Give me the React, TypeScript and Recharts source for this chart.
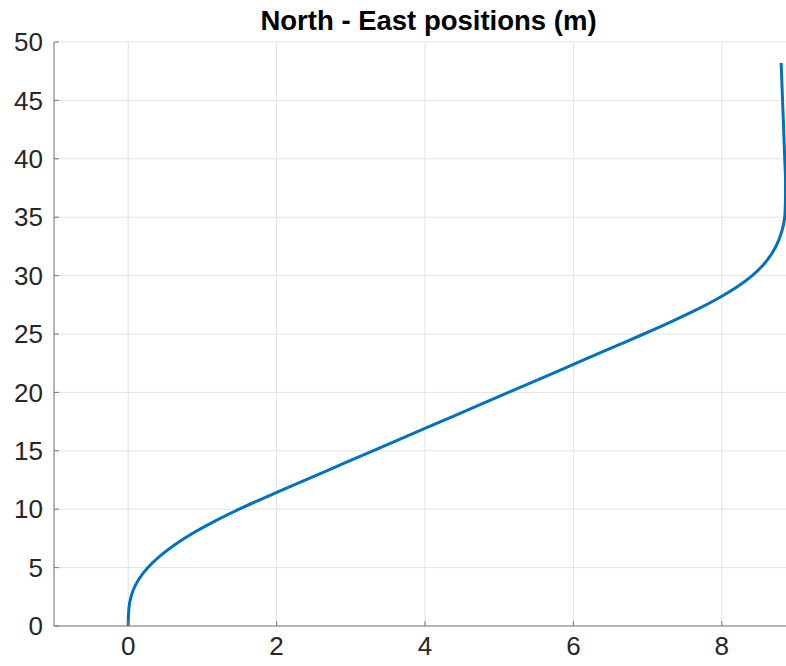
import { CartesianGrid, Line, LineChart, XAxis, YAxis } from "recharts"

const chartTitle = "North - East positions (m)"

// east (x) and north (y) positions of the track
const eastPositions = [
  0, 0.004, 0.02, 0.063, 0.143, 0.266, 0.431, 0.638, 0.887, 1.175, 1.496, 1.843, 2.205, 2.935, 3.665, 4.395,
  5.125, 5.855, 6.585, 6.948, 7.3, 7.633, 7.935, 8.198, 8.41, 8.57, 8.685, 8.765, 8.818, 8.848, 8.856, 8.859,
  8.859, 8.848, 8.825, 8.8,
]
const northPositions = [
  0, 1, 2, 3, 4, 5, 6, 7, 8, 9, 10, 11, 12, 14, 16, 18,
  20, 22, 24, 25, 26, 27, 28, 29, 30, 31, 32, 33, 34, 35, 36, 37,
  38, 40, 44, 48.2,
]

const xTicks = [0, 2, 4, 6, 8]
const yTicks = [0, 5, 10, 15, 20, 25, 30, 35, 40, 45, 50]

const data = eastPositions.map((east, i) => ({ east, north: northPositions[i] }))

const font = "'Liberation Sans', Arial, Helvetica, sans-serif"
const axisColor = "#7a7a7a"
const tickStyle = { fill: "#262626", fontSize: 26, fontFamily: font }

export default function App() {
  return (
    <div style={{ position: "absolute", left: 0, top: 0, width: 786, height: 666, overflow: "hidden", background: "#fff" }}>
      <LineChart width={800} height={666} data={data} margin={{ top: 42, right: 4, bottom: 0, left: 0 }}>
        <CartesianGrid stroke="#e3e3e3" strokeWidth={1} />
        <XAxis
          dataKey="east"
          type="number"
          domain={[-1, 9]}
          ticks={xTicks}
          allowDataOverflow
          height={40}
          stroke={axisColor}
          tickSize={-5}
          tickMargin={16}
          tick={tickStyle}
        />
        <XAxis
          xAxisId="top"
          orientation="top"
          type="number"
          domain={[-1, 9]}
          ticks={xTicks}
          allowDataOverflow
          height={0}
          stroke={axisColor}
          tickSize={-5}
          tickFormatter={() => ""}
        />
        <YAxis
          dataKey="north"
          type="number"
          domain={[0, 50]}
          ticks={yTicks}
          allowDataOverflow
          width={54}
          stroke={axisColor}
          tickSize={-5}
          tickMargin={16}
          tick={tickStyle}
        />
        <Line
          dataKey="north"
          type="monotoneY"
          stroke="#0072BD"
          strokeWidth={3}
          dot={false}
          isAnimationActive={false}
        />
      </LineChart>
      <div
        style={{
          position: "absolute",
          left: 0,
          top: 7,
          width: 857,
          textAlign: "center",
          fontFamily: font,
          fontWeight: "bold",
          fontSize: 27.5,
          lineHeight: "27px",
          color: "#000",
        }}
      >
        {chartTitle}
      </div>
    </div>
  )
}
